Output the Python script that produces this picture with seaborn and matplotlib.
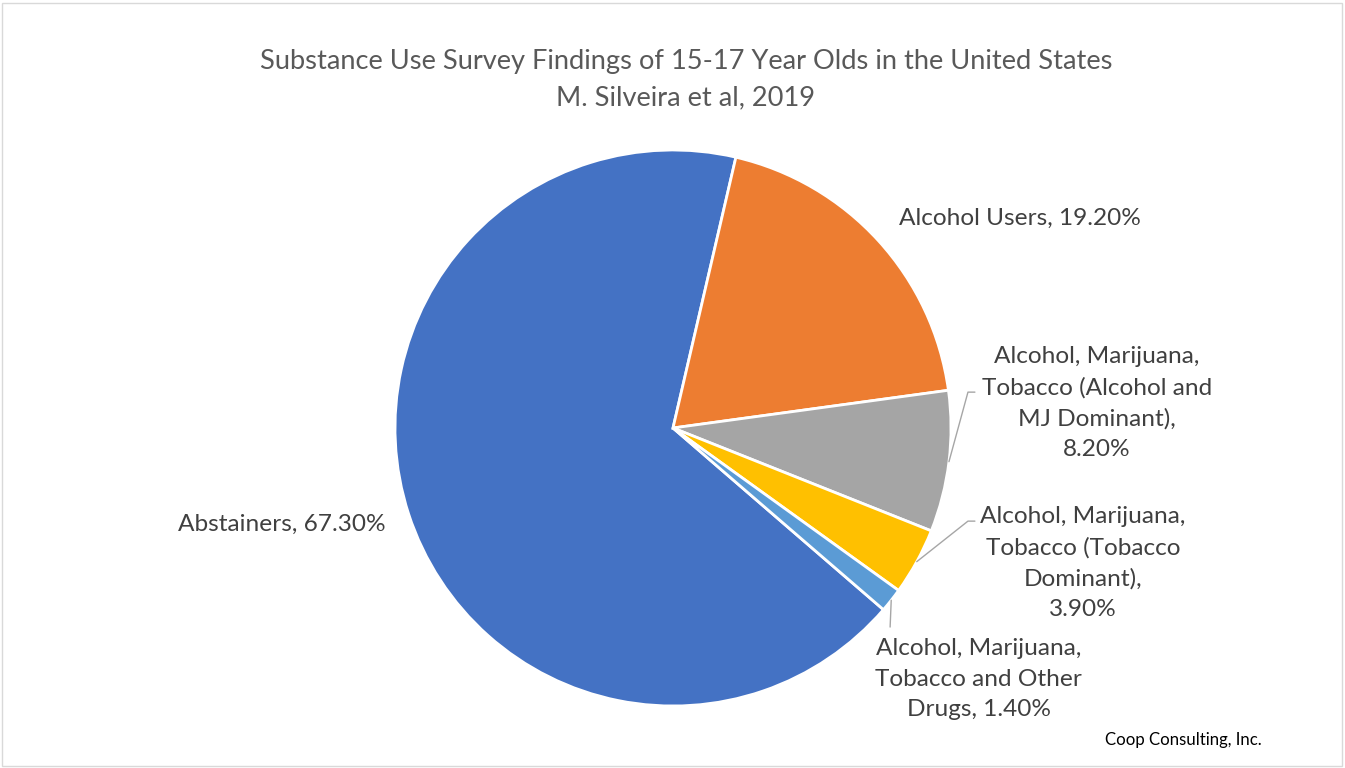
import numpy as np
import matplotlib
matplotlib.use("Agg")
import matplotlib.pyplot as plt
import matplotlib.patches as mpatches
import seaborn as sns

# data
categories = [
    "Abstainers",
    "Alcohol Users",
    "Alcohol, Marijuana,\nTobacco (Alcohol and\nMJ Dominant)",
    "Alcohol, Marijuana,\nTobacco (Tobacco\nDominant)",
    "Alcohol, Marijuana,\nTobacco and Other\nDrugs",
]
shares = [67.3, 19.2, 8.2, 3.9, 1.4]
label_text = [
    "Abstainers, 67.30%",
    "Alcohol Users, 19.20%",
    "Alcohol, Marijuana,\nTobacco (Alcohol and\nMJ Dominant),\n8.20%",
    "Alcohol, Marijuana,\nTobacco (Tobacco\nDominant),\n3.90%",
    "Alcohol, Marijuana,\nTobacco and Other\nDrugs, 1.40%",
]
colors = sns.color_palette(["#4472C4", "#ED7D31", "#A5A5A5", "#FFC000", "#5B9BD5"])

sns.set_theme(style="white")
plt.rcParams["font.family"] = ["Lato", "DejaVu Sans"]

fig = plt.figure(figsize=(13.45, 7.68), dpi=100)
fig.patch.set_facecolor("white")

# pie axes: centre (673, 428) px, radius ~278 px
R = 278
ax = fig.add_axes([(673 - R) / 1345, (768 - 428 - R) / 768, 2 * R / 1345, 2 * R / 768])
wedges, _ = ax.pie(shares, colors=colors, startangle=-40.8, counterclock=False,
                   radius=1.0, wedgeprops=dict(edgecolor="white", linewidth=2))
ax.set_xlim(-1, 1)
ax.set_ylim(-1, 1)
ax.set_aspect("equal")
ax.axis("off")

txt_color = "#404040"
fs = 17.6

# label positions (data units, radius = 1)
label_pos = [(-1.406, -0.345), (1.248, 0.755), (1.525, 0.09), (1.475, -0.486), (1.10, -0.903)]
# leader line elbows/ends for the small slices
leaders = {
    2: [(1.061, 0.129), (1.086, 0.129)],
    3: [(1.061, -0.335), (1.086, -0.335)],
    4: [(0.781, -0.716)],
}

for i, (w, txt, (lx, ly)) in enumerate(zip(wedges, label_text, label_pos)):
    ax.text(lx, ly, txt, ha="center", va="center", fontsize=fs, color=txt_color,
            linespacing=1.55, clip_on=False)
    if i in leaders:
        mid = np.deg2rad((w.theta1 + w.theta2) / 2)
        pts = [(np.cos(mid), np.sin(mid))] + leaders[i]
        xs, ys = zip(*pts)
        ax.plot(xs, ys, color="#A6A6A6", lw=1, clip_on=False)

fig.text(686 / 1345, 1 - 61 / 768, "Substance Use Survey Findings of 15-17 Year Olds in the United States",
         ha="center", va="center", fontsize=19.6, color="#595959")
fig.text(686 / 1345, 1 - 98 / 768, "M. Silveira et al, 2019",
         ha="center", va="center", fontsize=19.6, color="#595959")
fig.text(1183 / 1345, 1 - 740 / 768, "Coop Consulting, Inc.", ha="center", va="center",
         fontsize=12.1, color="black")

# chart border
fig.patches.append(mpatches.Rectangle((2 / 1345, 2 / 768), 1 - 5 / 1345, 1 - 5 / 768,
                                      transform=fig.transFigure, fill=False,
                                      edgecolor="#D9D9D9", linewidth=1))

fig.savefig("out.png", dpi=100, facecolor="white")
